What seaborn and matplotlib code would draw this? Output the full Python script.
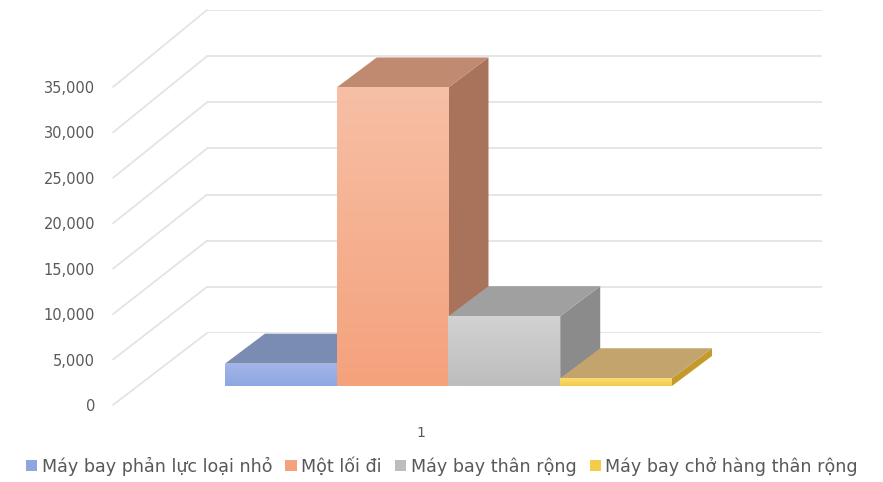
import numpy as np
import pandas as pd
import matplotlib
matplotlib.use("Agg")
import matplotlib.pyplot as plt
import seaborn as sns
from matplotlib.patches import Polygon, ConnectionPatch, Patch
from matplotlib.ticker import FuncFormatter

# data
categories = ["1"]
series = ["Máy bay phản lực loại nhỏ", "Một lối đi", "Máy bay thân rộng", "Máy bay chở hàng thân rộng"]
values = [2450, 32700, 7650, 850]
y_ticks = [0, 5000, 10000, 15000, 20000, 25000, 30000, 35000]

front_top = ["#a3b6ea", "#f7bfa5", "#d2d2d2", "#f9dc70"]
front_bot = ["#8ea6e0", "#f4a27c", "#bdbdbd", "#f3cc4c"]
top_cols = ["#7b8cb2", "#bf8a70", "#a0a0a0", "#c3a46c"]
side_cols = ["#6d7ea6", "#a8735a", "#8b8b8b", "#c49a2a"]

df = pd.DataFrame({"group": categories * len(series), "series": series, "value": values})

W, H = 883, 482
fig = plt.figure(figsize=(W / 100, H / 100), dpi=100)
sns.set_style("white")
plt.rcParams["font.family"] = ["DejaVu Sans"]


def px_box(x0, y0, x1, y1):
    return [x0 / W, 1 - y1 / H, (x1 - x0) / W, (y1 - y0) / H]


grid_col = "#e2e2e2"
text_col = "#595959"

# back wall with gridlines
ax_wall = fig.add_axes(px_box(207, 10, 822, 333))
ax_wall.set_ylim(0, 35000)
ax_wall.set_xlim(0, 1)
for v in y_ticks:
    ax_wall.axhline(v, color=grid_col, lw=1.2, zorder=0)
ax_wall.axis("off")

# front plane carrying the tick labels
ax_front = fig.add_axes(px_box(113, 87, 728, 405))
ax_front.set_ylim(0, 35000)
ax_front.set_xlim(-0.5, 0.5)
ax_front.set_yticks(y_ticks)
ax_front.yaxis.set_major_formatter(FuncFormatter(lambda v, p: f"{int(v):,}"))
ax_front.set_xticks([0])
ax_front.set_xticklabels(categories)
ax_front.tick_params(axis="y", length=0, pad=13, labelsize=10.5, labelcolor=text_col)
ax_front.tick_params(axis="x", length=0, pad=15, labelsize=10, labelcolor=text_col)
for s in ax_front.spines.values():
    s.set_visible(False)
ax_front.patch.set_alpha(0)

# diagonal lines from labels to the wall
for v in y_ticks:
    con = ConnectionPatch(xyA=(0, v), coordsA=ax_front.get_yaxis_transform(),
                          xyB=(0, v), coordsB=ax_wall.get_yaxis_transform(),
                          color=grid_col, lw=1.2, zorder=0)
    fig.add_artist(con)

# bars
s_px = 9.13 / 1000
base = 386
ax_bar = fig.add_axes(px_box(100, 5, 860, 420))
sns.barplot(data=df, x="group", y="value", hue="series", palette=front_bot,
            ax=ax_bar, legend=False, width=0.8, saturation=1)
ax_bar.set_ylim(-(420 - base) / s_px, (base - 5) / s_px)
ax_bar.set_xlim(-0.6237, 0.7365)
ax_bar.axis("off")
ax_bar.patch.set_alpha(0)

fig.canvas.draw()
p0 = ax_bar.transData.transform((0, 0))
dxd, dyd = ax_bar.transData.inverted().transform(p0 + np.array([40, 30]))

bars = sorted(ax_bar.patches, key=lambda p: p.get_x())
for i, p in enumerate(bars):
    x0, w, h = p.get_x(), p.get_width(), p.get_height()
    z = 3 + 4 * i
    side = Polygon([(x0 + w, 0), (x0 + w + dxd, dyd), (x0 + w + dxd, h + dyd), (x0 + w, h)],
                   closed=True, fc=side_cols[i], ec="none", zorder=z)
    top = Polygon([(x0, h), (x0 + w, h), (x0 + w + dxd, h + dyd), (x0 + dxd, h + dyd)],
                  closed=True, fc=top_cols[i], ec="none", zorder=z + 1)
    ax_bar.add_patch(side)
    ax_bar.add_patch(top)
    p.set_zorder(z + 2)
    p.set_edgecolor("none")
    # soft vertical gradient on the front face
    grad = np.linspace(0, 1, 64).reshape(-1, 1)
    c0 = np.array(matplotlib.colors.to_rgb(front_top[i]))
    c1 = np.array(matplotlib.colors.to_rgb(front_bot[i]))
    img = c0 * (1 - grad[..., None]) + c1 * grad[..., None]
    im = ax_bar.imshow(img, extent=(x0, x0 + w, 0, h), aspect="auto", origin="upper",
                       zorder=z + 3, interpolation="bilinear")
    im.set_clip_path(p)
ax_bar.set_xlim(-0.6237, 0.7365)
ax_bar.set_ylim(-(420 - base) / s_px, (base - 5) / s_px)

handles = [Patch(fc=front_bot[i], ec="none") for i in range(len(series))]
fig.legend(handles, series, loc="center", bbox_to_anchor=(442 / W, 1 - 466 / H), ncol=4,
           frameon=False, fontsize=12.6, handlelength=0.65, handleheight=0.65,
           handletextpad=0.25, columnspacing=0.75, labelcolor=text_col)

fig.savefig("out.png", dpi=100)
